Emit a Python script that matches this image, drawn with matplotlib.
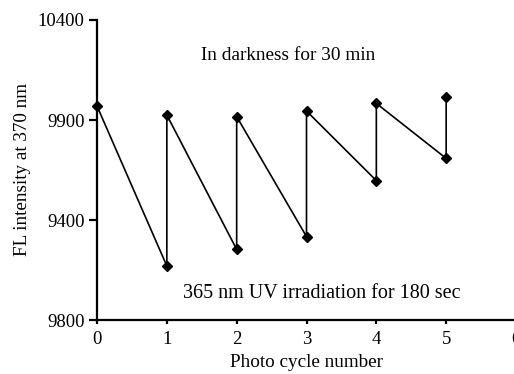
import numpy as np
import matplotlib.pyplot as plt

plt.rcParams['font.family'] = ['Liberation Serif', 'DejaVu Serif']

# FL intensity at 370 nm over photo cycles (dark recovery -> UV irradiation)
cycle = [0, 1, 1, 2, 2, 3, 3, 4, 4, 5, 5]
intensity = [9970, 9170, 9925, 9253, 9917, 9317, 9945, 9597, 9983, 9708, 10017]

ytick_vals = [8900, 9400, 9900, 10400]
ytick_text = ["9800", "9400", "9900", "10400"]
xtick_vals = [0, 1, 2, 3, 4, 5, 6]

fig = plt.figure(figsize=(5.14, 3.74), dpi=100)
ax = fig.add_axes([97 / 514, 54 / 374, 419 / 514, 300 / 374])

ax.plot(cycle, intensity, color='black', lw=1.2, marker='D', ms=5.5,
        markerfacecolor='black', markeredgecolor='black', clip_on=False)

ax.set_xlim(0, 6)
ax.set_ylim(8900, 10400)
ax.set_xticks(xtick_vals)
ax.set_yticks(ytick_vals)
ax.set_yticklabels(ytick_text)

for side in ['top', 'right']:
    ax.spines[side].set_visible(False)
for side in ['left', 'bottom']:
    ax.spines[side].set_linewidth(1.6)

fs = 13.5
ax.tick_params(axis='y', direction='out', length=6, width=1.6, labelsize=fs, pad=3)
ax.tick_params(axis='x', direction='out', length=3, width=1.6, labelsize=fs, pad=5)

ax.set_xlabel('Photo cycle number', fontsize=13.8, labelpad=4.5)
ax.set_ylabel('FL intensity at 370 nm', fontsize=13.8, labelpad=5)

ax.text(2.74, 10225, 'In darkness for 30 min', fontsize=13.9, ha='center', va='center')
ax.text(3.22, 9035, '365 nm UV irradiation for 180 sec', fontsize=14.5, ha='center', va='center')

fig.savefig('out.png', dpi=100)
